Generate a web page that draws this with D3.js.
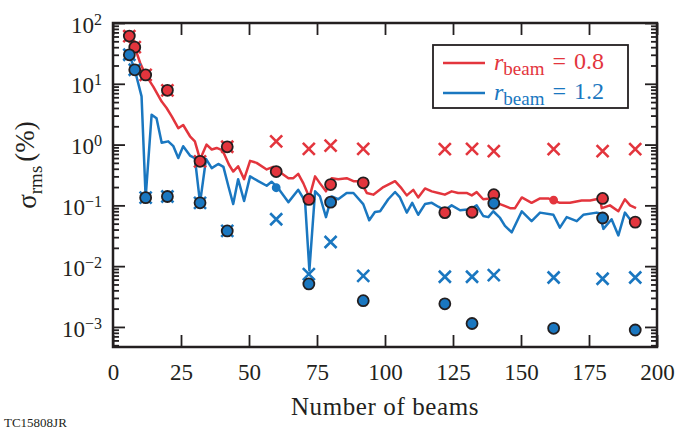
<!DOCTYPE html>
<html>
<head>
<meta charset="utf-8">
<script src="https://cdn.jsdelivr.net/npm/d3@7"></script>
<style>
  body { margin: 0; background: #fff; }
  svg text { font-family: "Liberation Serif", "Times New Roman", serif; fill: #231f20; }
</style>
</head>
<body>
<svg width="678" height="434"></svg>
<script>
// 線データ（r_beam = 0.8）
var redBeams = [4,6,8,10,12,14.8,17.9,19.7,21.6,24,25.8,28.3,30.1,32,34.4,36.3,38.1,40.3,42.6,44.2,46,48.2,50.4,52.8,56.5,58.9,61.4,64.5,66.3,68.1,70,72.2,74.3,76.1,78.3,80.4,82.8,85.9,88.4,91,93.3,95.7,99.4,103.7,106.1,108,110.4,112.2,114.7,117.2,119.6,122,124.5,126.9,130,131.9,133.7,136.1,138.6,141,143.5,146,147.8,150.3,153.9,157,160,161.9,164.3,168,172.3,175.4,179,179.7,182.7,185.8,188.2,190.1,192.3];
var redLine  = [75,58,40,22,14,9,5.1,4,2.9,1.86,2.1,1.37,1.13,0.57,1.0,0.83,0.88,0.8,0.47,0.36,0.44,0.27,0.54,0.5,0.39,0.43,0.35,0.28,0.28,0.33,0.23,0.135,0.3,0.23,0.17,0.28,0.27,0.28,0.25,0.25,0.16,0.15,0.2,0.25,0.19,0.146,0.18,0.135,0.19,0.17,0.16,0.15,0.17,0.16,0.16,0.146,0.165,0.126,0.13,0.11,0.1,0.09,0.09,0.135,0.11,0.13,0.13,0.12,0.11,0.11,0.12,0.12,0.13,0.09,0.1,0.08,0.126,0.1,0.09];

// 線データ（r_beam = 1.2）
var blueBeams = [4,6,8,10.5,12,14.2,16,17.9,20.3,22.2,24,25.8,28.3,30.1,32,34.2,36.3,38.7,40.6,42.5,44.2,46,48.2,50.4,53.4,56.5,58.3,60.8,64.5,68.1,70.6,72.2,74.3,76.1,78.3,80.4,82.8,85.9,88.4,92,94.2,96.3,98.2,101.2,103.7,105.5,108,110,112.2,114.7,117.2,119.6,122,124.5,127.6,131.3,133.7,136.1,138,139.8,142.3,144.1,146.6,150.3,153.9,157,161.9,164.3,166.8,170.5,172.9,177.8,178.8,180.3,183.3,185.8,188.2,190.6];
var blueLine  = [25,30,17,6.2,0.134,3.1,2.7,1.07,1.13,0.94,0.6,0.94,0.66,0.6,0.11,0.58,0.41,0.48,0.43,0.2,0.105,0.27,0.118,0.3,0.25,0.21,0.245,0.19,0.113,0.18,0.118,0.0085,0.17,0.14,0.064,0.14,0.126,0.16,0.16,0.105,0.057,0.078,0.08,0.126,0.166,0.135,0.076,0.11,0.07,0.105,0.11,0.095,0.083,0.1,0.083,0.086,0.1,0.067,0.064,0.08,0.062,0.046,0.036,0.08,0.055,0.076,0.07,0.043,0.064,0.055,0.07,0.076,0.074,0.041,0.059,0.032,0.076,0.055];

// マーカー
var markBeams   = [6,8,12,20,32,42,60,72,80,92,122,132,140,162,180,192];
var redCircle   = [61,40,14,7.8,0.53,0.92,0.36,0.125,0.22,0.235,0.076,0.077,0.15,0.122,0.13,0.053];
var redCross    = [61,40,14,7.8,0.53,0.92,1.13,0.85,0.96,0.85,0.84,0.85,0.78,0.84,0.78,0.84];
var blueCircle  = [30,17,0.134,0.14,0.11,0.038,0.195,0.0051,0.113,0.0027,0.0024,0.00114,0.108,0.00095,0.062,0.00089];
var blueCross   = [30,17,0.134,0.14,0.11,0.038,0.059,0.0074,0.025,0.0069,0.0067,0.0067,0.0071,0.0065,0.0062,0.0065];
var redSmall  = [162];   // 小さい丸のビーム数（赤）
var blueSmall = [60];    // 小さい丸のビーム数（青）

var xTicks = [0,25,50,75,100,125,150,175,200];
var yExps  = [2,1,0,-1,-2,-3];
var legendLabels = ["0.8","1.2"];

var RED = "#e3353d", BLUE = "#1a77c0", INK = "#231f20";

var svg = d3.select("svg");
// 描画範囲（window.top と被らないように名前を変える）
var pL = 113, pR = 657, pT = 23, pB = 347;

var x = d3.scaleLinear().domain([0,200]).range([pL,pR]);
var y = d3.scaleLog().domain([Math.pow(10,-3.33),100]).range([pB,pT]);

// 目盛り
var minor = [];
for (var e=-4; e<=1; e++) for (var k=2; k<=9; k++){
	var v = k*Math.pow(10,e);
	if (v > y.domain()[0] && v < 100) minor.push(v);
}
var majors = yExps.map(function(e){ return Math.pow(10,e); });

function styleAxis(g){
	g.select(".domain").remove();
	g.selectAll(".tick line").attr("stroke", INK).attr("stroke-width", 1.8);
}

svg.append("g").attr("transform","translate(0,"+pB+")")
	.call(d3.axisBottom(x).tickValues(xTicks).tickSize(-12).tickPadding(17).tickFormat(d3.format("d")))
	.call(styleAxis)
	.selectAll("text").attr("font-size","23px").attr("fill",INK)
	.style("font-family","'Liberation Serif', serif");

svg.append("g").attr("transform","translate(0,"+pT+")")
	.call(d3.axisTop(x).tickValues(xTicks).tickSize(-12).tickFormat(""))
	.call(styleAxis);

var yl = svg.append("g").attr("transform","translate("+pL+",0)")
	.call(d3.axisLeft(y).tickValues(majors).tickSize(-12).tickPadding(12).tickFormat(""))
	.call(styleAxis);
svg.append("g").attr("transform","translate("+pL+",0)")
	.call(d3.axisLeft(y).tickValues(minor).tickSize(-6).tickFormat(""))
	.call(styleAxis);
svg.append("g").attr("transform","translate("+pR+",0)")
	.call(d3.axisRight(y).tickValues(majors).tickSize(-12).tickFormat(""))
	.call(styleAxis);
svg.append("g").attr("transform","translate("+pR+",0)")
	.call(d3.axisRight(y).tickValues(minor).tickSize(-6).tickFormat(""))
	.call(styleAxis);

// 10^n ラベル
yl.selectAll(".tick text").each(function(d){
	var t = d3.select(this).text(null)
		.attr("x", -11).attr("dy", "0.4em")
		.attr("text-anchor","end").attr("font-size","23px").attr("fill",INK)
		.style("font-family","'Liberation Serif', serif");
	var ex = Math.round(Math.log10(d));
	t.append("tspan").text("10");
	t.append("tspan").attr("dy","-0.5em").attr("font-size","16px")
		.text(ex < 0 ? "\u2212" + (-ex) : "" + ex);
});

// 枠
svg.append("rect").attr("x",pL).attr("y",pT)
	.attr("width",pR-pL).attr("height",pB-pT)
	.attr("fill","none").attr("stroke",INK).attr("stroke-width",2.5);

// 線
var line = d3.line()
	.x(function(d){ return x(d[0]); })
	.y(function(d){ return y(d[1]); });

svg.append("path").datum(d3.zip(redBeams, redLine))
	.attr("d", line).attr("fill","none").attr("stroke",RED)
	.attr("stroke-width",2.5).attr("stroke-linejoin","round");
svg.append("path").datum(d3.zip(blueBeams, blueLine))
	.attr("d", line).attr("fill","none").attr("stroke",BLUE)
	.attr("stroke-width",2.5).attr("stroke-linejoin","round");

// ×印
function drawCross(vals, color){
	svg.append("g").selectAll("path")
		.data(d3.zip(markBeams, vals))
		.enter()
		.append("path")
		.attr("transform", function(d){ return "translate(" + x(d[0]) + "," + y(d[1]) + ")"; })
		.attr("d","M-6,-6L6,6M-6,6L6,-6")
		.attr("stroke", color).attr("stroke-width", 2.6).attr("fill","none");
}
drawCross(redCross, RED);
drawCross(blueCross, BLUE);

// 丸印
function drawCircle(vals, color, small){
	svg.append("g").selectAll("circle")
		.data(d3.zip(markBeams, vals))
		.enter()
		.append("circle")
		.attr("cx", function(d){ return x(d[0]); })
		.attr("cy", function(d){ return y(d[1]); })
		.attr("r", function(d){ return small.indexOf(d[0]) >= 0 ? 3.5 : 5.5; })
		.attr("fill", color)
		.attr("stroke", function(d){ return small.indexOf(d[0]) >= 0 ? color : INK; })
		.attr("stroke-width", 1.8);
}
drawCircle(redCircle, RED, redSmall);
drawCircle(blueCircle, BLUE, blueSmall);

// 凡例
var lg = svg.append("g");
lg.append("rect").attr("x",433).attr("y",45).attr("width",195).attr("height",63)
	.attr("fill","#fff").attr("stroke",INK).attr("stroke-width",1.8);
[RED, BLUE].forEach(function(c,i){
	var yy = 63 + i*30;
	lg.append("line").attr("x1",443).attr("x2",485).attr("y1",yy).attr("y2",yy)
		.attr("stroke",c).attr("stroke-width",2.5);
	var t = lg.append("text").attr("x",494).attr("y",yy+7)
		.attr("font-size","24px").style("fill",c);
	t.append("tspan").attr("font-style","italic").text("r");
	t.append("tspan").attr("dy","0.28em").attr("font-size","19px").text("beam");
	t.append("tspan").attr("dy","-0.28em").attr("dx","8").text("=");
	t.append("tspan").attr("dx","8").text(legendLabels[i]);
});

// 軸ラベル
svg.append("text").attr("x",(pL+pR)/2).attr("y",415)
	.attr("text-anchor","middle").attr("font-size","25px")
	.style("letter-spacing","0.6px").text("Number of beams");

var ylab = svg.append("text").attr("transform","translate(36,165) rotate(-90)")
	.attr("text-anchor","middle").attr("font-size","27px");
ylab.append("tspan").text("\u03c3");
ylab.append("tspan").attr("dy","0.3em").attr("font-size","19px").text("rms");
ylab.append("tspan").attr("dy","-0.3em").attr("dx","4").text("(%)");

svg.append("text").attr("x",4).attr("y",427).attr("font-size","13px").text("TC15808JR");
</script>
</body>
</html>
